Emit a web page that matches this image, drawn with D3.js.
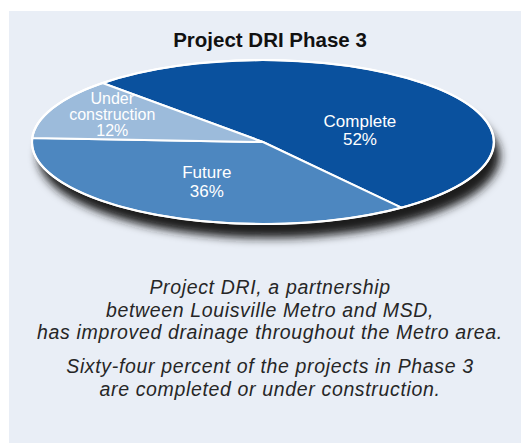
<!DOCTYPE html>
<html>
<head>
<meta charset="utf-8">
<script src="https://cdn.jsdelivr.net/npm/d3@7"></script>
<style>
  html, body { margin: 0; padding: 0; background: #fff; }
  svg { display: block; }
</style>
</head>
<body>
<script>
"use strict";

// data
const categories = ['Complete', 'Future', 'Under construction'];
const percents = [52, 36, 12];
const labelLines = [['Complete'], ['Future'], ['Under', 'construction']];
const title = 'Project DRI Phase 3';
const captionLines = [
  'Project DRI, a partnership',
  'between Louisville Metro and MSD,',
  'has improved drainage throughout the Metro area.'
];
const captionLines2 = [
  'Sixty-four percent of the projects in Phase 3',
  'are completed or under construction.'
];

const width = 521, height = 443;
const cx = 263, cy = 142, rx = 231, ry = 82;
const colors = ['#0a519e', '#4d87c0', '#9cbbdb'];
// small nudges so labels sit where the original put them
const labelNudge = [[9, 20.5], [-2, 9.5], [-14, 0]];
const labelRadius = [0.5, 0.5, 0.65];
const labelLineHeight = [18, 19, 16];
const labelFontSize = [17, 17, 16];

const svg = d3.select('body').append('svg')
  .attr('width', width)
  .attr('height', height);

svg.append('rect')
  .attr('x', 9).attr('y', 11)
  .attr('width', width - 9).attr('height', height - 11)
  .attr('fill', '#e9eef6');

const defs = svg.append('defs');
defs.append('filter')
  .attr('id', 'shadow')
  .attr('x', '-20%').attr('y', '-30%')
  .attr('width', '140%').attr('height', '170%')
  .append('feGaussianBlur')
  .attr('stdDeviation', 5);

svg.append('text')
  .attr('x', 270).attr('y', 47)
  .attr('text-anchor', 'middle')
  .style('font-family', '"Liberation Sans", Arial, sans-serif')
  .style('font-weight', 'bold')
  .style('font-size', '20.5px')
  .attr('fill', '#111')
  .text(title);

// drop shadow under the pie
svg.append('ellipse')
  .attr('cx', cx + 6).attr('cy', cy + 14)
  .attr('rx', rx).attr('ry', ry)
  .attr('fill', '#1c1c1c')
  .attr('filter', 'url(#shadow)');

const start = -44 * Math.PI / 180;
const pie = d3.pie().sort(null).startAngle(start).endAngle(start + 2 * Math.PI);
const arcs = pie(percents);
const arc = d3.arc().innerRadius(0).outerRadius(1);

const pieG = svg.append('g')
  .attr('transform', `translate(${cx},${cy}) scale(${rx},${ry})`);

pieG.selectAll('path')
  .data(arcs)
  .enter().append('path')
  .attr('d', arc)
  .attr('fill', (d, i) => colors[i])
  .attr('stroke', '#fff')
  .attr('stroke-width', 2)
  .attr('stroke-linejoin', 'round')
  .attr('vector-effect', 'non-scaling-stroke');

pieG.append('ellipse')
  .attr('rx', 1).attr('ry', 1)
  .attr('fill', 'none')
  .attr('stroke', '#fff')
  .attr('stroke-width', 2.2)
  .attr('vector-effect', 'non-scaling-stroke');

// slice labels
const labelG = svg.append('g');
arcs.forEach((d, i) => {
  const c = d3.arc().innerRadius(0).outerRadius(2 * labelRadius[i]).centroid(d);
  const x = cx + c[0] * rx + labelNudge[i][0];
  const y = cy + c[1] * ry + labelNudge[i][1];
  const lines = labelLines[i].concat([percents[i] + '%']);
  const lh = labelLineHeight[i];
  lines.forEach((s, j) => {
    labelG.append('text')
      .attr('text-anchor', 'middle')
      .attr('x', x)
      .attr('y', y + (j - (lines.length - 1) / 2) * lh)
      .style('font-family', '"Liberation Sans", Arial, sans-serif')
      .style('font-size', labelFontSize[i] + 'px')
      .attr('fill', '#fff')
      .text(s);
  });
});

// caption
function caption(lines, y0) {
  lines.forEach((s, j) => {
    svg.append('text')
      .attr('text-anchor', 'middle')
      .attr('x', 270)
      .attr('y', y0 + j * 22.5)
      .style('font-family', '"Liberation Sans", Arial, sans-serif')
      .style('font-style', 'italic')
      .style('font-size', '19.5px')
      .style('letter-spacing', '0.65px')
      .attr('fill', '#262626')
      .text(s);
  });
}
caption(captionLines, 294);
caption(captionLines2, 373);
</script>
</body>
</html>
